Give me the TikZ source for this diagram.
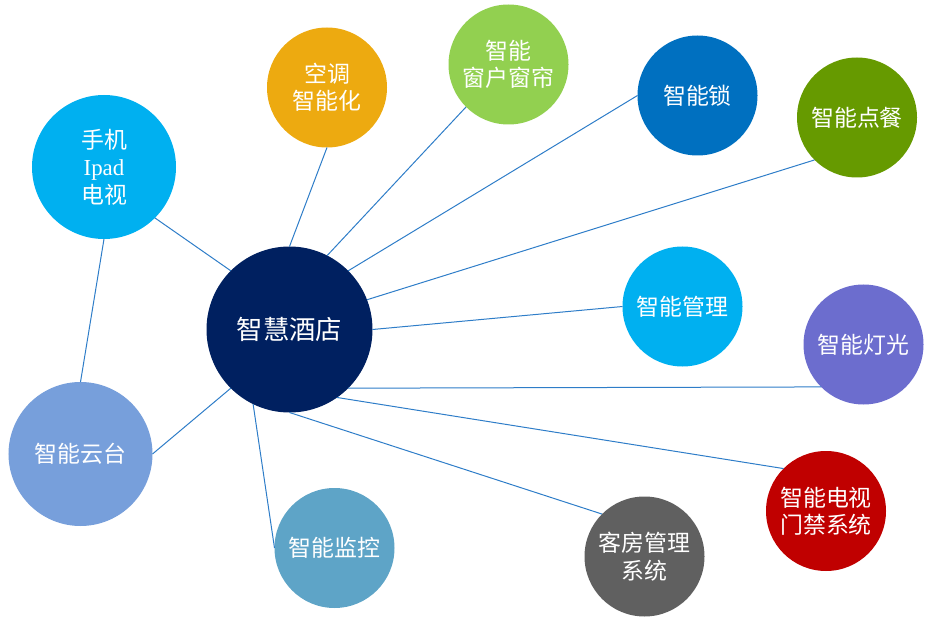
\documentclass[tikz,border=0pt]{standalone}
\usepackage{fontspec}
\setmainfont{Noto Sans CJK SC}
\newfontfamily\ipadfont{Liberation Serif}
\definecolor{chub}{HTML}{002060}
\definecolor{cphone}{HTML}{00B0F0}
\definecolor{cac}{HTML}{EDAA10}
\definecolor{cwin}{HTML}{92D050}
\definecolor{clock}{HTML}{0070C0}
\definecolor{corder}{HTML}{669A00}
\definecolor{cmgmt}{HTML}{00B0F0}
\definecolor{clight}{HTML}{6C6DCE}
\definecolor{ctv}{HTML}{C00000}
\definecolor{croom}{HTML}{606060}
\definecolor{cmon}{HTML}{5EA4C7}
\definecolor{ccloud}{HTML}{779FDB}
\definecolor{linkc}{HTML}{2E7DC8}
\begin{document}
\begin{tikzpicture}[x=1bp,y=-1bp,
  bub/.style={circle,inner sep=0pt,outer sep=0pt,minimum size=120bp,text=white,
    font=\fontsize{23}{27.5}\selectfont,align=center},
  big/.style={minimum size=144bp},
  hubstyle/.style={minimum size=166bp,font=\fontsize{26.5}{30}\selectfont},
  link/.style={draw=linkc,line width=1bp}]
\useasboundingbox (0,0) rectangle (937,623);
\node[bub,big,fill=cphone] (phone) at (104,167) {手机\\{\ipadfont Ipad}\\电视};
\node[bub,fill=cac] (ac) at (327,87.5) {空调\\智能化};
\node[bub,fill=cwin] (win) at (508.5,64.5) {智能\\窗户窗帘};
\node[bub,fill=clock] (lock) at (697.5,95.5) {智能锁};
\node[bub,fill=corder] (order) at (857,117.5) {智能点餐};
\node[bub,fill=cmgmt] (mgmt) at (682.5,306.5) {智能管理};
\node[bub,fill=clight] (light) at (863.5,344.5) {智能灯光};
\node[bub,fill=ctv] (tv) at (826,511) {智能电视\\门禁系统};
\node[bub,fill=croom] (room) at (644.5,556.5) {客房管理\\系统};
\node[bub,fill=cmon] (mon) at (334.5,548) {智能监控};
\node[bub,big,fill=ccloud] (cloud) at (80.5,454) {智能云台};
\node[bub,hubstyle,fill=chub] (hub) at (289.5,329.5) {智慧酒店};
\draw[link] (hub.135) -- (phone.-45);
\draw[link] (phone.270) -- (cloud.90);
\draw[link] (hub.90) -- (ac.270);
\draw[link] (hub.63) -- (win.225);
\draw[link] (hub.45) -- (lock.180);
\draw[link] (hub.21) -- (order.225);
\draw[link] (hub.0) -- (mgmt.180);
\draw[link] (hub.-45) -- (light.225);
\draw[link] (hub.-55) -- (tv.135);
\draw[link] (hub.-90) -- (room.135);
\draw[link] (hub.-116) -- (mon.180);
\draw[link] (hub.225) -- (cloud.0);
\end{tikzpicture}
\end{document}
